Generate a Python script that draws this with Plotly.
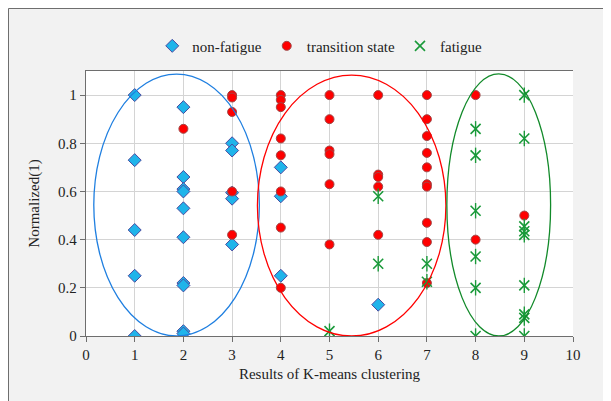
import plotly.graph_objects as go

# ---- data ----
nonfatigue_x = [1, 1, 1, 1, 1,
                2, 2, 2, 2, 2, 2, 2, 2, 2, 2,
                3, 3, 3, 3, 3,
                4, 4, 4,
                6]
nonfatigue_y = [1.0, 0.73, 0.44, 0.25, 0.0,
                0.95, 0.66, 0.61, 0.60, 0.53, 0.41, 0.22, 0.21, 0.02, 0.01,
                0.80, 0.77, 0.595, 0.57, 0.38,
                0.70, 0.58, 0.25,
                0.13]

transition_x = [2,
                3, 3, 3, 3, 3,
                4, 4, 4, 4, 4, 4, 4, 4,
                5, 5, 5, 5, 5, 5,
                6, 6, 6, 6, 6,
                7, 7, 7, 7, 7, 7, 7, 7, 7, 7,
                8, 8,
                9]
transition_y = [0.86,
                1.0, 0.99, 0.93, 0.60, 0.42,
                1.0, 0.98, 0.95, 0.82, 0.75, 0.60, 0.45, 0.20,
                1.0, 0.90, 0.77, 0.755, 0.63, 0.38,
                1.0, 0.67, 0.66, 0.62, 0.42,
                1.0, 0.90, 0.83, 0.76, 0.70, 0.63, 0.62, 0.47, 0.39, 0.22,
                1.0, 0.40,
                0.50]

fatigue_x = [5,
             6, 6,
             7, 7,
             8, 8, 8, 8, 8, 8,
             9, 9, 9, 9, 9, 9, 9, 9, 9]
fatigue_y = [0.02,
             0.58, 0.30,
             0.30, 0.225,
             0.86, 0.75, 0.52, 0.33, 0.20, 0.0,
             1.0, 0.82, 0.455, 0.435, 0.42, 0.21, 0.09, 0.075, 0.0]

# cluster ellipses (data extents)
ellipse_x0 = [0.16, 3.52, 7.41]
ellipse_x1 = [3.56, 7.39, 9.54]
ellipse_y0 = [0.0, 0.0, 0.0]
ellipse_y1 = [1.087, 1.083, 1.088]
ellipse_colors = ["#1f7fe0", "#ff0000", "#128a2a"]

x_ticks = [0, 1, 2, 3, 4, 5, 6, 7, 8, 9, 10]
y_ticks = [0, 0.2, 0.4, 0.6, 0.8, 1.0]
y_ticklabels = ["0", "0.2", "0.4", "0.6", "0.8", "1"]

series_names = ["non-fatigue", "transition state", "fatigue"]

FONT = "Liberation Serif"
FS = 15

ML, MT, PW, PH = 78, 63, 487, 265
W, H = 611, 401

fig = go.Figure()

fig.add_trace(go.Scatter(
    x=nonfatigue_x, y=nonfatigue_y, mode="markers", name=series_names[0],
    marker=dict(symbol="diamond", size=10, color="#1fb4ea",
                line=dict(color="#4a4aa0", width=1))))

fig.add_trace(go.Scatter(
    x=transition_x, y=transition_y, mode="markers", name=series_names[1],
    marker=dict(symbol="circle", size=9, color="#ff0000",
                line=dict(color="#a04848", width=1))))

fig.add_trace(go.Scatter(
    x=fatigue_x, y=fatigue_y, mode="markers", name=series_names[2],
    marker=dict(symbol="x-thin-open", size=10, color="#1a9a3a",
                line=dict(color="#1a9a3a", width=1.6))))
fig.add_trace(go.Scatter(
    x=fatigue_x, y=fatigue_y, mode="markers", showlegend=False,
    hoverinfo="skip",
    marker=dict(symbol="line-ns-open", size=11, color="#1a9a3a",
                line=dict(color="#1a9a3a", width=1.4))))

shapes = []
for x0, x1, y0, y1, c in zip(ellipse_x0, ellipse_x1, ellipse_y0, ellipse_y1, ellipse_colors):
    shapes.append(dict(type="circle", xref="x", yref="y", x0=x0, x1=x1, y0=y0, y1=y1,
                       line=dict(color=c, width=1.3), fillcolor="rgba(0,0,0,0)"))

# outer frame border along the figure edge
shapes.append(dict(type="rect", xref="paper", yref="paper",
                   x0=-(ML - 0.5) / PW, x1=(W - ML - 0.5) / PW,
                   y0=-(H - MT - PH - 0.5) / PH, y1=1 + (MT - 0.5) / PH,
                   fillcolor="rgba(0,0,0,0)",
                   line=dict(color="#6e6e6e", width=1), layer="below"))

fig.update_layout(
    width=W, height=H,
    margin=dict(l=ML, r=W - ML - PW, t=MT, b=H - MT - PH),
    paper_bgcolor="#f2f2f2", plot_bgcolor="white",
    font=dict(family=FONT, size=FS, color="#222222"),
    shapes=shapes,
    showlegend=True,
    legend=dict(orientation="h", x=0.48, xanchor="center", y=1.094, yanchor="middle",
                bgcolor="rgba(0,0,0,0)", font=dict(family=FONT, size=FS),
                itemwidth=30),
    xaxis=dict(range=[0, 10], tickvals=x_ticks, showgrid=True, gridcolor="#d4d4d4",
               gridwidth=1.3, zeroline=False, showline=True, linecolor="#6e6e6e",
               linewidth=1.3, mirror=True, ticks="outside", ticklen=5,
               tickcolor="#6e6e6e", tickfont=dict(family=FONT, size=FS),
               title=dict(text="Results of K-means clustering",
                          font=dict(family=FONT, size=FS), standoff=6)),
    yaxis=dict(range=[0, 1.1], tickvals=y_ticks, ticktext=y_ticklabels, showgrid=True,
               gridcolor="#d4d4d4", gridwidth=1.3, zeroline=False, showline=True,
               linecolor="#6e6e6e", linewidth=1.3, ticks="outside", ticklen=5,
               tickcolor="#6e6e6e", tickfont=dict(family=FONT, size=FS),
               title=dict(text="Normalized(1)", font=dict(family=FONT, size=FS),
                          standoff=14)),
)

fig.write_html("out.html")
